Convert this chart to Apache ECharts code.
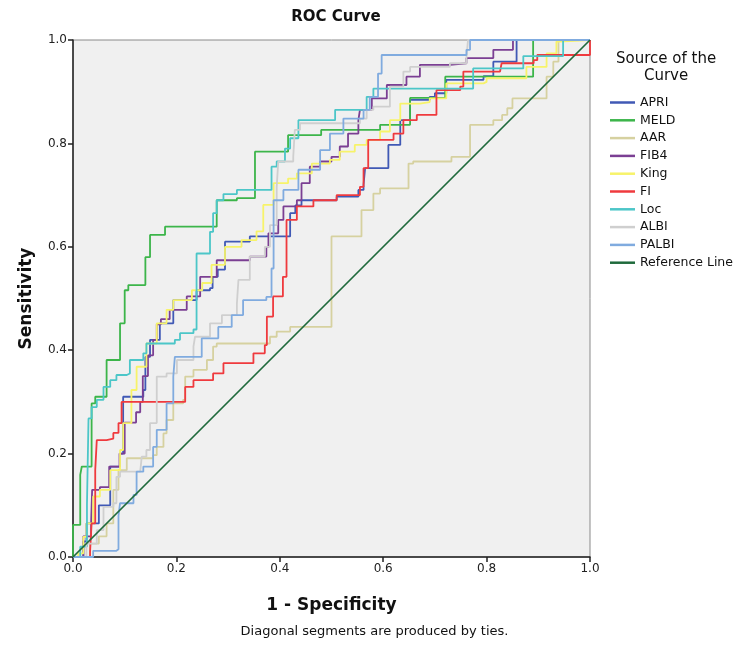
<!DOCTYPE html>
<html>
<head>
<meta charset="utf-8">
<script src="https://cdn.jsdelivr.net/npm/echarts@6/dist/echarts.min.js"></script>
<style>
  html, body { margin: 0; padding: 0; background: #fff; }
  #chart { width: 749px; height: 661px; }
</style>
</head>
<body>
<div id="chart"></div>
<script>
// ROC 曲线数据 (1 - Specificity, Sensitivity)，按阶梯顺序读取
const seriesNames = ['APRI', 'MELD', 'AAR', 'FIB4', 'King', 'FI', 'Loc', 'ALBI', 'PALBI'];
const seriesColors = ['#4059b5', '#3cb54a', '#d6d1a0', '#7b3f93', '#f7f36a', '#ef3a3e', '#4cc6c8', '#cfcfcf', '#80abdf'];
const xTicks = [0, 0.2, 0.4, 0.6, 0.8, 1.0];
const yTicks = [0, 0.2, 0.4, 0.6, 0.8, 1.0];

const apri = [[0,0],[0.02,0.03],[0.026,0.065],[0.05,0.1],[0.072,0.175],[0.091,0.2],[0.097,0.31],[0.136,0.323],[0.14,0.387],[0.149,0.42],[0.168,0.452],[0.194,0.497],[0.239,0.516],[0.265,0.52],[0.27,0.542],[0.28,0.556],[0.294,0.61],[0.342,0.62],[0.42,0.665],[0.43,0.68],[0.442,0.69],[0.51,0.697],[0.552,0.71],[0.562,0.72],[0.565,0.752],[0.61,0.797],[0.633,0.845],[0.652,0.884],[0.69,0.89],[0.7,0.897],[0.722,0.923],[0.794,0.93],[0.813,0.958],[0.858,1],[1,1]];
const meld = [[0,0],[0,0.062],[0.014,0.159],[0.017,0.175],[0.036,0.297],[0.043,0.31],[0.065,0.381],[0.091,0.452],[0.1,0.516],[0.107,0.526],[0.14,0.58],[0.149,0.623],[0.178,0.639],[0.278,0.69],[0.317,0.694],[0.352,0.784],[0.416,0.816],[0.48,0.826],[0.594,0.836],[0.652,0.888],[0.72,0.929],[0.89,1],[1,1]];
const aar = [[0,0],[0.033,0.026],[0.05,0.04],[0.065,0.065],[0.078,0.13],[0.088,0.168],[0.104,0.191],[0.155,0.197],[0.162,0.213],[0.175,0.239],[0.181,0.265],[0.194,0.297],[0.213,0.304],[0.217,0.349],[0.233,0.362],[0.259,0.381],[0.271,0.407],[0.278,0.413],[0.368,0.413],[0.381,0.426],[0.394,0.436],[0.42,0.445],[0.5,0.445],[0.5,0.62],[0.558,0.671],[0.581,0.703],[0.594,0.713],[0.649,0.761],[0.658,0.765],[0.732,0.774],[0.768,0.836],[0.813,0.845],[0.83,0.855],[0.84,0.868],[0.85,0.887],[0.916,0.929],[0.929,0.958],[0.939,1],[1,1]];
const fib4 = [[0,0],[0.02,0.04],[0.035,0.065],[0.037,0.13],[0.052,0.135],[0.07,0.175],[0.09,0.2],[0.1,0.26],[0.122,0.28],[0.13,0.3],[0.135,0.35],[0.145,0.39],[0.155,0.42],[0.162,0.45],[0.17,0.46],[0.187,0.478],[0.22,0.504],[0.246,0.542],[0.278,0.574],[0.342,0.581],[0.374,0.6],[0.378,0.626],[0.397,0.652],[0.407,0.678],[0.433,0.69],[0.442,0.723],[0.458,0.755],[0.478,0.765],[0.5,0.774],[0.516,0.794],[0.532,0.819],[0.552,0.845],[0.555,0.865],[0.578,0.887],[0.607,0.913],[0.645,0.929],[0.671,0.952],[0.729,0.955],[0.761,0.965],[0.813,0.981],[0.851,1],[1,1]];
const king = [[0,0],[0.01,0.007],[0.02,0.039],[0.026,0.065],[0.039,0.117],[0.052,0.13],[0.072,0.168],[0.091,0.207],[0.097,0.259],[0.113,0.323],[0.123,0.368],[0.142,0.413],[0.162,0.452],[0.181,0.478],[0.194,0.497],[0.23,0.516],[0.25,0.53],[0.268,0.565],[0.294,0.6],[0.326,0.613],[0.355,0.63],[0.368,0.681],[0.388,0.723],[0.416,0.732],[0.433,0.742],[0.462,0.761],[0.497,0.768],[0.516,0.784],[0.545,0.797],[0.568,0.807],[0.594,0.823],[0.613,0.845],[0.633,0.877],[0.671,0.88],[0.69,0.887],[0.722,0.916],[0.794,0.919],[0.8,0.926],[0.877,0.948],[0.916,0.974],[0.935,0.997],[0.94,1],[1,1]];
const fi = [[0,0],[0.033,0.01],[0.036,0.065],[0.043,0.168],[0.046,0.226],[0.065,0.229],[0.078,0.24],[0.088,0.259],[0.094,0.3],[0.21,0.3],[0.217,0.329],[0.233,0.342],[0.271,0.355],[0.291,0.375],[0.349,0.394],[0.371,0.41],[0.375,0.465],[0.387,0.504],[0.406,0.542],[0.413,0.652],[0.433,0.678],[0.465,0.69],[0.51,0.7],[0.555,0.716],[0.562,0.752],[0.571,0.807],[0.607,0.807],[0.62,0.819],[0.639,0.845],[0.665,0.855],[0.703,0.903],[0.749,0.91],[0.755,0.939],[0.826,0.939],[0.829,0.955],[0.891,0.961],[0.898,0.971],[1,0.974],[1,1]];
const loc = [[0,0],[0.014,0.02],[0.027,0.1],[0.03,0.268],[0.036,0.29],[0.046,0.304],[0.059,0.329],[0.072,0.342],[0.084,0.352],[0.104,0.355],[0.11,0.381],[0.136,0.394],[0.142,0.413],[0.197,0.42],[0.207,0.433],[0.233,0.44],[0.239,0.587],[0.265,0.6],[0.265,0.629],[0.271,0.665],[0.278,0.69],[0.291,0.702],[0.317,0.71],[0.384,0.755],[0.394,0.765],[0.41,0.79],[0.42,0.81],[0.436,0.845],[0.507,0.845],[0.507,0.865],[0.562,0.865],[0.568,0.89],[0.581,0.906],[0.774,0.906],[0.774,0.945],[0.871,0.948],[0.871,0.969],[0.942,0.969],[0.948,1],[1,1]];
const albi = [[0,0],[0.026,0.026],[0.046,0.052],[0.059,0.097],[0.078,0.104],[0.084,0.155],[0.091,0.165],[0.13,0.165],[0.133,0.194],[0.142,0.207],[0.149,0.259],[0.162,0.278],[0.162,0.349],[0.181,0.355],[0.201,0.381],[0.233,0.407],[0.236,0.426],[0.265,0.452],[0.288,0.468],[0.317,0.49],[0.32,0.536],[0.342,0.581],[0.371,0.6],[0.381,0.642],[0.394,0.716],[0.397,0.765],[0.426,0.774],[0.429,0.826],[0.439,0.839],[0.555,0.848],[0.568,0.865],[0.581,0.871],[0.613,0.91],[0.639,0.939],[0.652,0.948],[0.729,0.955],[0.761,0.965],[0.764,1],[1,1]];
const palbi = [[0,0],[0.033,0],[0.039,0.012],[0.084,0.015],[0.088,0.08],[0.091,0.104],[0.117,0.12],[0.123,0.165],[0.136,0.175],[0.155,0.213],[0.162,0.246],[0.181,0.297],[0.194,0.349],[0.197,0.387],[0.249,0.423],[0.281,0.445],[0.307,0.468],[0.329,0.497],[0.374,0.503],[0.384,0.558],[0.388,0.69],[0.407,0.71],[0.436,0.749],[0.478,0.787],[0.497,0.819],[0.523,0.848],[0.562,0.865],[0.574,0.89],[0.59,0.935],[0.597,0.971],[0.761,0.981],[0.768,1],[1,1]];
const referenceLine = [[0,0],[1,1]];

const curveData = [apri, meld, aar, fib4, king, fi, loc, albi, palbi];
const fontFamily = 'DejaVu Sans';

const chart = echarts.init(document.getElementById('chart'));

const series = seriesNames.map((name, i) => ({
    name: name,
    type: 'line',
    step: 'end',
    data: curveData[i],
    symbol: 'none',
    lineStyle: { color: seriesColors[i], width: 1.8 },
    itemStyle: { color: seriesColors[i] },
    animation: false
}));
series.push({
    name: 'Reference Line',
    type: 'line',
    data: referenceLine,
    symbol: 'none',
    lineStyle: { color: '#1f6a3c', width: 1.7 },
    itemStyle: { color: '#1f6a3c' },
    animation: false
});

const option = {
    backgroundColor: '#ffffff',
    title: {
        text: 'ROC Curve',
        left: 331,
        top: 5,
        textAlign: 'center',
        textStyle: { fontFamily: fontFamily, fontSize: 15, fontWeight: 'bold', color: '#111' }
    },
    grid: {
        left: 73, top: 40, width: 517, height: 517,
        show: true,
        backgroundColor: '#f0f0f0',
        borderColor: '#8a8a8a',
        borderWidth: 1
    },
    legend: {
        orient: 'vertical',
        left: 605,
        top: 91,
        icon: 'rect',
        itemWidth: 25,
        itemHeight: 2.5,
        itemGap: 4.8,
        textStyle: { fontFamily: fontFamily, fontSize: 12.5, color: '#111' },
        data: seriesNames.concat(['Reference Line'])
    },
    graphic: [{
        type: 'text',
        left: 678 - 62,
        top: 51,
        style: {
            text: 'Source of the\nCurve',
            font: '15px ' + fontFamily,
            fill: '#111',
            textAlign: 'center',
            lineHeight: 17,
            x: 62
        }
    }, {
        type: 'text',
        left: 'center',
        top: 625,
        style: {
            text: 'Diagonal segments are produced by ties.',
            font: '13px ' + fontFamily,
            fill: '#111'
        }
    }],
    xAxis: {
        type: 'value',
        min: 0, max: 1, interval: 0.2,
        name: '1 - Specificity',
        nameLocation: 'middle',
        nameGap: 40,
        nameTextStyle: { fontFamily: fontFamily, fontSize: 17, fontWeight: 'bold', color: '#111' },
        axisLine: { show: true, lineStyle: { color: '#222', width: 1.5 } },
        axisTick: { show: true, length: 5, lineStyle: { color: '#222', width: 1.5 } },
        axisLabel: { fontFamily: fontFamily, fontSize: 12, color: '#222', margin: 6,
            formatter: v => xTicks.includes(v) ? v.toFixed(1) : '' },
        splitLine: { show: false }
    },
    yAxis: {
        type: 'value',
        min: 0, max: 1, interval: 0.2,
        name: 'Sensitivity',
        nameLocation: 'middle',
        nameGap: 38,
        nameTextStyle: { fontFamily: fontFamily, fontSize: 17, fontWeight: 'bold', color: '#111' },
        axisLine: { show: true, lineStyle: { color: '#222', width: 1.5 } },
        axisTick: { show: true, length: 5, lineStyle: { color: '#222', width: 1.5 } },
        axisLabel: { fontFamily: fontFamily, fontSize: 12, color: '#222', margin: 6,
            formatter: v => yTicks.includes(v) ? v.toFixed(1) : '' },
        splitLine: { show: false }
    },
    series: series
};

chart.setOption(option);
</script>
</body>
</html>
